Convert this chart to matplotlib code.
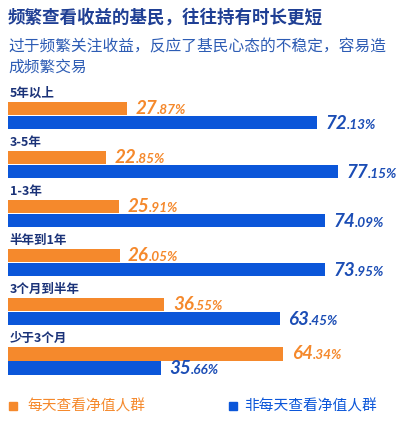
import matplotlib.pyplot as plt
from matplotlib.patches import Rectangle

groups = ['5年以上', '3-5年', '1-3年', '半年到1年', '3个月到半年', '少于3个月']
daily = [27.87, 22.85, 25.91, 26.05, 36.55, 64.34]
not_daily = [72.13, 77.15, 74.09, 73.95, 63.45, 35.66]
legend_labels = ['每天查看净值人群', '非每天查看净值人群']
title = '频繁查看收益的基民，往往持有时长更短'
subtitle = '过于频繁关注收益，反应了基民心态的不稳定，容易造\n成频繁交易'

ORANGE = '#f5892c'
BLUE = '#0b56d9'
BLUE_TXT = '#1b4db5'
NAVY = '#1a3278'

plt.rcParams['font.family'] = ['Noto Sans CJK SC', 'DejaVu Sans']
NUM_FONT = ['Lato', 'DejaVu Sans']

W, H = 416, 429
fig = plt.figure(figsize=(W / 100, H / 100), dpi=100)
fig.patch.set_facecolor('white')

# y axis in pixel units so group layout is easy to tune
ax = fig.add_axes([8 / W, 0, 1 - 8 / W, 1])
ax.set_xlim(0, 95.3)
ax.set_ylim(H, 0)
ax.axis('off')

top0, step = 101.5, 49.1
bh = 13.5
tops = [top0 + i * step for i in range(len(groups))]
yo = [t + 6.75 for t in tops]
yb = [t + 20.75 for t in tops]

ax.barh(yo, daily, height=bh, color=ORANGE, align='center')
ax.barh(yb, not_daily, height=bh, color=BLUE, align='center')

for i, g in enumerate(groups):
    ax.text(0.4, tops[i] - 8.5, g, fontsize=9, fontweight='bold', color=NAVY,
            va='center', ha='left')

# value labels: big integer part + small decimal part
pairs = []
for vals, ys, col, dy in [(daily, yo, ORANGE, 5.5), (not_daily, yb, BLUE_TXT, 6.5)]:
    for v, y in zip(vals, ys):
        s = '%.2f' % v
        big, small = s.split('.')
        t = ax.text(v + 2.0, y + dy, big, fontsize=13.5, fontweight='bold',
                    style='italic', family=NUM_FONT, color=col, va='baseline')
        pairs.append((t, '.' + small + '%', y + dy, col))

fig.canvas.draw()
r = fig.canvas.get_renderer()
inv = ax.transData.inverted()
for t, s, y, col in pairs:
    bb = t.get_window_extent(renderer=r)
    x1 = inv.transform((bb.x1, bb.y0))[0]
    ax.text(x1 - 0.1, y, s, fontsize=9.8, fontweight='bold', style='italic',
            family=NUM_FONT, color=col, va='baseline')

fig.text(8 / W, 1 - 18 / H, title, fontsize=12.6, fontweight='bold',
         color='#1f3f94', va='center', ha='left')
fig.text(8 / W, 1 - 38 / H, subtitle, fontsize=11.3, color='#2d5cb4',
         va='top', ha='left', linespacing=1.25)

# legend
leg_y = 406
for (sx, tx), lab, col in zip([(9, 27), (229, 244)], legend_labels, [ORANGE, BLUE]):
    fig.add_artist(Rectangle((sx / W, 1 - (leg_y + 4) / H), 8 / W, 8 / H,
                             transform=fig.transFigure, color=col))
    fig.text(tx / W, 1 - leg_y / H, lab, fontsize=10.6, color=col,
             va='center', ha='left')

fig.savefig('out.png', dpi=100)
